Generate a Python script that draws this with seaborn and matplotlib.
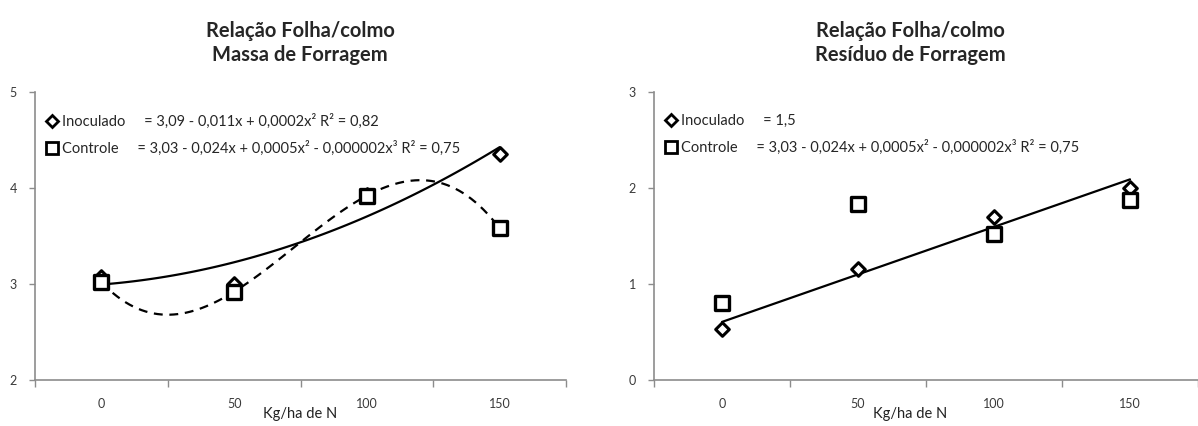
import numpy as np
import pandas as pd
import matplotlib
matplotlib.use('Agg')
import matplotlib.pyplot as plt
from matplotlib.lines import Line2D
import seaborn as sns

sns.set_style('white')
plt.rcParams['font.family'] = ['Lato', 'DejaVu Sans']

# data
doses = [0, 50, 100, 150]

massa_inoculado = [3.07, 3.00, 3.93, 4.35]
massa_controle = [3.02, 2.92, 3.92, 3.58]

residuo_inoculado = [0.53, 1.16, 1.70, 2.00]
residuo_controle = [0.80, 1.83, 1.52, 1.88]

titles = ['Relação Folha/colmo\nMassa de Forragem',
          'Relação Folha/colmo\nResíduo de Forragem']
eq_massa = ['Inoculado     = 3,09 - 0,011x + 0,0002x² R² = 0,82',
            'Controle     = 3,03 - 0,024x + 0,0005x² - 0,000002x³ R² = 0,75']
eq_residuo = ['Inoculado     = 1,5',
              'Controle     = 3,03 - 0,024x + 0,0005x² - 0,000002x³ R² = 0,75']

gray = '#8c8c8c'
W, H = 1198, 426


def style_axes(ax, ylim, yticks, label_x):
    ax.set_xlim(-25, 175)
    ax.set_ylim(*ylim)
    ax.set_xticks(doses)
    ax.set_xticks([-25, 25, 75, 125, 175], minor=True)
    ax.set_yticks(yticks)
    ax.tick_params(axis='x', which='major', length=0, pad=13, labelsize=9, colors='#3a3a3a')
    ax.tick_params(axis='x', which='minor', length=5, width=1, color=gray, direction='out', bottom=True)
    ax.tick_params(axis='y', length=4, width=1, color=gray, direction='out', left=True,
                   labelsize=9, labelcolor='#3a3a3a', pad=9)
    for side in ['top', 'right']:
        ax.spines[side].set_visible(False)
    for side in ['left', 'bottom']:
        ax.spines[side].set_color(gray)
        ax.spines[side].set_linewidth(1.2)
    ax.set_xlabel('')
    ax.set_ylabel('')
    fig.text(label_x / W, 1 - 414 / H, 'Kg/ha de N', ha='center', va='center',
             fontsize=10.5, color='#222222')


def draw_points(ax, x, y1, y2):
    sns.scatterplot(x=x, y=y1, ax=ax, marker='D', s=48, facecolor='white',
                    edgecolor='black', linewidth=2.2, zorder=4)
    sns.scatterplot(x=x, y=y2, ax=ax, marker='s', s=95, facecolor='white',
                    edgecolor='black', linewidth=2.4, zorder=5)


def add_legend(ax, labels):
    handles = [
        Line2D([], [], linestyle='none', marker='D', markersize=6.5, markerfacecolor='white',
               markeredgecolor='black', markeredgewidth=2.0),
        Line2D([], [], linestyle='none', marker='s', markersize=9, markerfacecolor='white',
               markeredgecolor='black', markeredgewidth=2.0),
    ]
    ax.legend(handles, labels, loc='upper left', bbox_to_anchor=(0.0, 0.96), frameon=False,
              fontsize=10.5, handletextpad=0.25, handlelength=0.9, labelspacing=0.85,
              borderaxespad=0.3)


fig = plt.figure(figsize=(W / 100, H / 100), dpi=100)
ax1 = fig.add_axes([35 / W, 1 - 380 / H, 531 / W, 288 / H])
ax2 = fig.add_axes([654 / W, 1 - 380 / H, 544 / W, 288 / H])

# left panel: Massa de Forragem
sns.regplot(x=doses, y=massa_inoculado, order=2, ci=None, scatter=False, ax=ax1,
            line_kws={'color': 'black', 'linewidth': 1.6})
sns.regplot(x=doses, y=massa_controle, order=3, ci=None, scatter=False, ax=ax1,
            line_kws={'color': 'black', 'linewidth': 1.6, 'linestyle': (0, (4, 3))})
draw_points(ax1, doses, massa_inoculado, massa_controle)
style_axes(ax1, (2, 5), [2, 3, 4, 5], 300)
add_legend(ax1, eq_massa)

# right panel: Resíduo de Forragem
sns.regplot(x=doses, y=residuo_inoculado, order=1, ci=None, scatter=False, ax=ax2,
            line_kws={'color': 'black', 'linewidth': 1.6})
draw_points(ax2, doses, residuo_inoculado, residuo_controle)
style_axes(ax2, (0, 3), [0, 1, 2, 3], 910)
add_legend(ax2, eq_residuo)

fig.text(300 / W, 1 - 43 / H, titles[0], ha='center', va='center',
         fontsize=14.5, fontweight='bold', linespacing=1.2)
fig.text(910 / W, 1 - 43 / H, titles[1], ha='center', va='center',
         fontsize=14.5, fontweight='bold', linespacing=1.2)

fig.savefig('out.png', dpi=100, facecolor='white')
